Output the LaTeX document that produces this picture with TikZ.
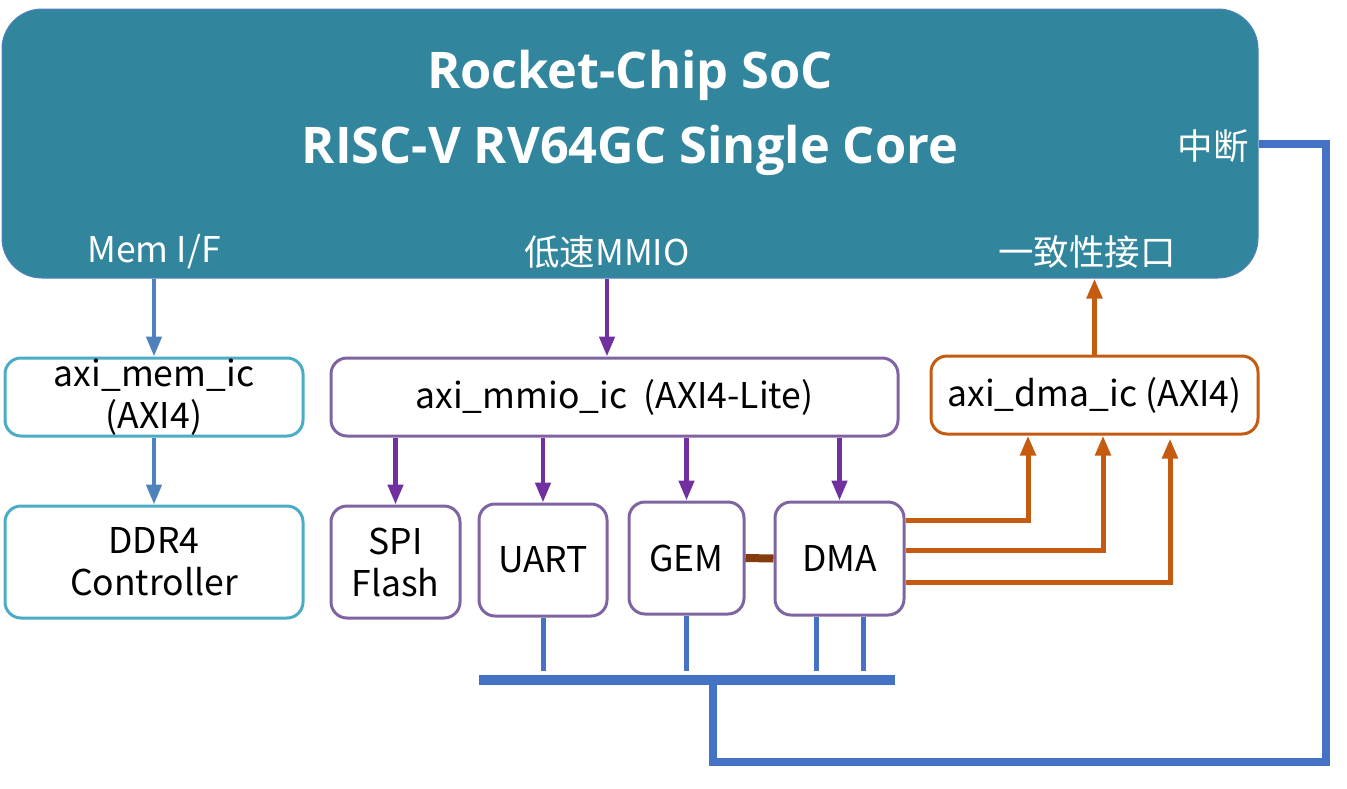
\documentclass[tikz,border=0pt]{standalone}
\usepackage{fontspec}
\setmainfont{Noto Sans CJK SC}
\newfontfamily\titlefont{Open Sans}
\usetikzlibrary{arrows.meta}

\definecolor{socfill}{HTML}{31859C}
\definecolor{memblue}{HTML}{4BACC6}
\definecolor{mmiopurple}{HTML}{8064A2}
\definecolor{arrpurple}{HTML}{7030A0}
\definecolor{dmaorange}{HTML}{C55A11}
\definecolor{busblue}{HTML}{4472C4}
\definecolor{memarr}{HTML}{4F81BD}
\definecolor{gembrown}{HTML}{843C0C}

\begin{document}
\begin{tikzpicture}[x=1pt,y=-1pt,
  box/.style={draw,line width=3pt,rounded corners=16pt,fill=white,align=center,
    inner sep=0pt,font=\fontsize{35.5}{42}\selectfont},
  portlabel/.style={text=white,font=\fontsize{35.5}{42}\selectfont},
  titletext/.style={anchor=base,text=white,font=\titlefont\bfseries\fontsize{50.5}{60}\selectfont},
  tip/.style={-{Triangle[width=15pt,length=20pt]}},
  memline/.style={tip,memarr,line width=4.5pt},
  mmioline/.style={tip,arrpurple,line width=4.5pt},
  dmaline/.style={tip,dmaorange,line width=5pt},
  stub/.style={busblue,line width=5pt}]

\useasboundingbox (0,0) rectangle (1347,788);

\node [draw=memarr,line width=1pt,fill=socfill,rounded corners=40pt,
  minimum width=1256pt,minimum height=269pt] (soc) at (630,143.5) {};

\node [titletext] (title1) at (630,88) {Rocket-Chip SoC};
\node [titletext] (title2) at (630,163) {RISC-V RV64GC Single Core};

\node [portlabel] (memif) at (154,252) {Mem I/F};
\node [portlabel] (mmio) at (607,252) {低速MMIO};
\node [portlabel] (coh) at (1087,252) {一致性接口};
\node [portlabel] (irq) at (1213,146) {中断};

\node [box,draw=memblue,minimum width=298pt,minimum height=78pt] (memic) at (154,397) {axi\_mem\_ic\\(AXI4)};
\node [box,draw=memblue,minimum width=298pt,minimum height=112pt] (ddr) at (154,562) {DDR4\\Controller};

\node [box,draw=mmiopurple,minimum width=567pt,minimum height=78pt] (mmioic) at (614.5,397) {axi\_mmio\_ic~~(AXI4-Lite)};
\node [box,draw=dmaorange,minimum width=327pt,minimum height=78pt] (dmaic) at (1094.5,395) {axi\_dma\_ic (AXI4)};

\node [box,draw=mmiopurple,minimum width=129pt,minimum height=112pt] (spi) at (395.5,562) {SPI\\Flash};
\node [box,draw=mmiopurple,minimum width=128pt,minimum height=112pt] (uart) at (543,560) {UART};
\node [box,draw=mmiopurple,minimum width=115pt,minimum height=112pt] (gem) at (686.5,558) {GEM};
\node [box,draw=mmiopurple,minimum width=129pt,minimum height=113pt] (dma) at (839.5,558.5) {DMA};

\draw [memline] (memic.north |- soc.south) -- (memic.north);
\draw [memline] (memic.south) -- (ddr.north);

\draw [mmioline] (mmio |- soc.south) -- (mmio |- mmioic.north);
\draw [mmioline] (spi.north |- mmioic.south) -- (spi.north);
\draw [mmioline] (uart.north |- mmioic.south) -- (uart.north);
\draw [mmioline] (gem.north |- mmioic.south) -- (gem.north);
\draw [mmioline] (dma.north |- mmioic.south) -- (dma.north);

\draw [dmaline] (dmaic.north) -- (dmaic.north |- soc.south);
\draw [dmaline] ([yshift=38.5pt]dma.east) -| ([xshift=-66.5pt]dmaic.south);
\draw [dmaline] ([yshift=8.5pt]dma.east) -| ([xshift=8.5pt]dmaic.south);
\draw [dmaline] ([yshift=-23.5pt]dma.east) -| ([xshift=75.5pt,yshift=-3pt]dmaic.south);

\draw [gembrown,line width=8pt] (gem.east) -- (dma.west);

\coordinate (busL) at (479,680);
\coordinate (busR) at (895,680);
\coordinate (stubend) at (0,671);
\coordinate (tap) at (713,680);
\coordinate (irqc) at (1326,762);

\draw [busblue,line width=10pt] (busL) -- (busR);
\draw [stub] (uart.south) -- (uart.south |- stubend);
\draw [stub] (gem.south) -- (gem.south |- stubend);
\draw [stub] ([xshift=-23.5pt]dma.south) -- ([xshift=-23.5pt]dma.south |- stubend);
\draw [stub] ([xshift=23.5pt]dma.south) -- ([xshift=23.5pt]dma.south |- stubend);

\draw [busblue,line width=8pt] (tap) |- (irqc) |- (soc.east);

\end{tikzpicture}
\end{document}
